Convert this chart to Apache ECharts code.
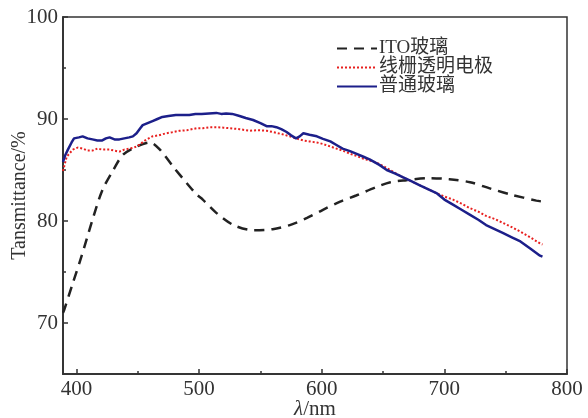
<!DOCTYPE html>
<html>
<head>
<meta charset="utf-8">
<script src="https://cdn.jsdelivr.net/npm/echarts@6/dist/echarts.min.js"></script>
<style>
  html, body { margin: 0; padding: 0; background: #fff; }
  #chart { width: 588px; height: 418px; }
</style>
</head>
<body>
<div id="chart"></div>
<script>
// [wavelength nm, transmittance %]
var itoGlass = [
  [389, 71.0], [390, 71.3], [397, 73.9], [404, 76.5], [413, 80.1], [421, 83.0],
  [430, 85.0], [438, 86.5], [449, 87.3], [460, 87.7], [468, 87.0], [479, 85.3],
  [490, 83.7], [498, 82.6], [503, 82.1], [514, 80.8], [528, 79.6], [544, 79.1],
  [560, 79.2], [574, 79.6], [588, 80.3], [601, 81.1], [615, 81.9], [628, 82.5],
  [644, 83.3], [656, 83.8], [669, 84.0], [688, 84.2], [704, 84.1], [721, 83.8],
  [737, 83.2], [754, 82.6], [775, 82.0], [780, 81.9]
];
var wireGrid = [
  [389, 84.9], [392, 86.3], [397, 87.0], [401, 87.2], [405, 87.1], [409, 86.9],
  [413, 86.9], [417, 87.1], [421, 87.0], [427, 87.0], [431, 86.9], [435, 86.8],
  [439, 87.0], [443, 87.1], [447, 87.2], [451, 87.45], [456, 87.9], [462, 88.3],
  [467, 88.4], [473, 88.6], [478, 88.7], [484, 88.85], [490, 88.9], [498, 89.1],
  [503, 89.1], [509, 89.2], [515, 89.2], [520, 89.15], [525, 89.1], [533, 89.0],
  [541, 88.85], [548, 88.9], [555, 88.85], [561, 88.7], [568, 88.5], [574, 88.3],
  [579, 88.1], [585, 87.9], [590, 87.8], [596, 87.7], [601, 87.55], [607, 87.3],
  [612, 87.1], [618, 86.85], [623, 86.6], [629, 86.35], [634, 86.1], [640, 85.9],
  [645, 85.7], [653, 85.2], [660, 84.7], [666, 84.3], [673, 83.9], [680, 83.5],
  [687, 83.1], [694, 82.7], [700, 82.4], [707, 82.1], [714, 81.7], [721, 81.25],
  [728, 80.9], [734, 80.5], [741, 80.2], [748, 79.8], [755, 79.4], [762, 78.95],
  [770, 78.4], [778, 77.8], [780, 77.7]
];
var plainGlass = [
  [389, 85.8], [391, 86.5], [393, 87.0], [396, 87.7], [398, 88.1], [402, 88.2],
  [405, 88.3], [409, 88.1], [413, 88.0], [417, 87.9], [421, 87.9], [424, 88.1],
  [427, 88.2], [431, 88.0], [435, 88.0], [439, 88.1], [443, 88.2], [446, 88.3],
  [449, 88.6], [452, 89.1], [454, 89.4], [458, 89.6], [462, 89.8], [466, 90.0],
  [470, 90.2], [475, 90.3], [481, 90.4], [487, 90.4], [492, 90.4], [497, 90.5],
  [502, 90.5], [508, 90.55], [514, 90.6], [518, 90.5], [522, 90.55], [527, 90.5],
  [533, 90.3], [538, 90.1], [544, 89.9], [550, 89.6], [555, 89.3], [559, 89.3],
  [563, 89.2], [567, 89.0], [571, 88.75], [575, 88.4], [579, 88.1], [582, 88.3],
  [585, 88.6], [590, 88.45], [596, 88.3], [601, 88.05], [607, 87.8], [612, 87.45],
  [617, 87.1], [623, 86.85], [628, 86.6], [634, 86.3], [639, 86.05], [647, 85.5],
  [653, 85.0], [660, 84.65], [666, 84.3], [673, 83.9], [680, 83.5], [687, 83.1],
  [694, 82.7], [700, 82.1], [707, 81.6], [714, 81.1], [721, 80.6], [728, 80.1],
  [734, 79.6], [741, 79.2], [748, 78.8], [755, 78.4], [762, 78.0], [770, 77.3],
  [778, 76.6], [780, 76.5]
];

var xLabels = [400, 500, 600, 700, 800];
var xMinor = [450, 550, 650, 750];
var yLabels = [70, 80, 90, 100];
var yMinor = [75, 85, 95];

var serif = '"Liberation Serif", "Times New Roman", "Noto Sans CJK SC", serif';
var axisColor = '#333';

var chart = echarts.init(document.getElementById('chart'));

function axisBase(min, max) {
  return {
    type: 'value',
    min: min,
    max: max,
    splitLine: { show: false },
    nameMoveOverlap: false,
    axisLine: { show: true, lineStyle: { color: axisColor, width: 1.5 } }
  };
}

var xMain = axisBase(389, 800);
xMain.position = 'bottom';
xMain.name = '{i|λ}/nm';
xMain.nameLocation = 'middle';
xMain.nameGap = 25;
xMain.nameTextStyle = {
  color: '#333', fontFamily: serif, fontSize: 21,
  rich: { i: { fontStyle: 'italic', fontFamily: serif, fontSize: 21, color: '#333' } }
};
xMain.axisTick = { show: true, inside: true, length: 5, customValues: xLabels, lineStyle: { color: axisColor, width: 1.5 } };
xMain.axisLabel = { customValues: xLabels, color: '#333', fontFamily: serif, fontSize: 21, margin: 5 };

var xSub = axisBase(389, 800);
xSub.position = 'bottom';
xSub.axisTick = { show: true, inside: true, length: 3, customValues: xMinor, lineStyle: { color: axisColor, width: 1.5 } };
xSub.axisLabel = { show: false };

var yMain = axisBase(65, 100);
yMain.position = 'left';
yMain.name = 'Tansmittance/%';
yMain.nameLocation = 'middle';
yMain.nameGap = 33;
yMain.nameTextStyle = { color: '#333', fontFamily: serif, fontSize: 20 };
yMain.axisTick = { show: true, inside: true, length: 5, customValues: yLabels, lineStyle: { color: axisColor, width: 1.5 } };
yMain.axisLabel = { customValues: yLabels, color: '#333', fontFamily: serif, fontSize: 21, margin: 5 };

var ySub = axisBase(65, 100);
ySub.position = 'left';
ySub.axisTick = { show: true, inside: true, length: 3, customValues: yMinor, lineStyle: { color: axisColor, width: 1.5 } };
ySub.axisLabel = { show: false };

chart.setOption({
  animation: false,
  backgroundColor: '#fff',
  grid: {
    left: 63, right: 21, top: 17, bottom: 44,
    outerBoundsMode: 'none',
    show: true, borderColor: axisColor, borderWidth: 1.5
  },
  legend: {
    orient: 'vertical',
    left: 331,
    top: 34,
    itemWidth: 40,
    itemHeight: 10,
    itemGap: 0,
    itemStyle: { opacity: 0 },
    textStyle: { color: '#333', fontFamily: serif, fontSize: 19, lineHeight: 19, padding: [0, 0, 0, -3] },
    data: ['ITO玻璃', '线栅透明电极', '普通玻璃']
  },
  xAxis: [xMain, xSub],
  yAxis: [yMain, ySub],
  series: [
    {
      name: 'ITO玻璃', type: 'line', data: itoGlass, showSymbol: false, symbol: 'none',
      smooth: 0.3, color: '#222',
      lineStyle: { color: '#222', width: 2.5, type: [10, 7] }
    },
    {
      name: '线栅透明电极', type: 'line', data: wireGrid, showSymbol: false, symbol: 'none',
      color: '#e8201f',
      lineStyle: { color: '#e8201f', width: 2, type: [2, 2] }
    },
    {
      name: '普通玻璃', type: 'line', data: plainGlass, showSymbol: false, symbol: 'none',
      color: '#1c1f8a',
      lineStyle: { color: '#1c1f8a', width: 2.5 }
    }
  ]
});
</script>
</body>
</html>
